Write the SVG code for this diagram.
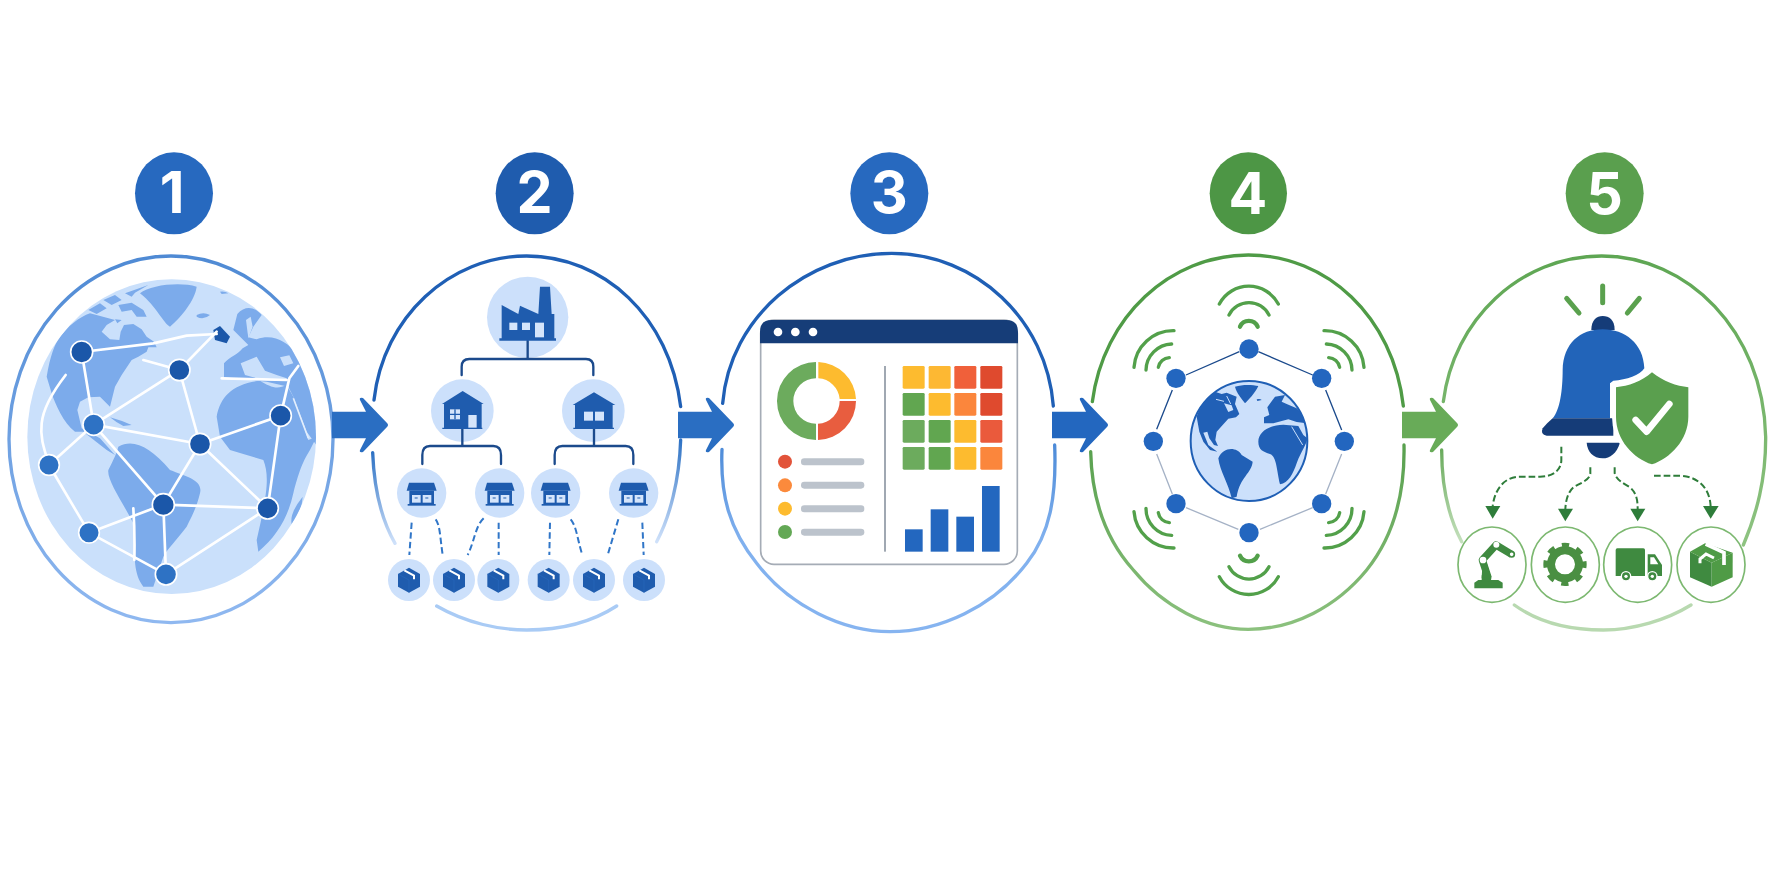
<svg xmlns="http://www.w3.org/2000/svg" xmlns:xlink="http://www.w3.org/1999/xlink" width="1774" height="887" viewBox="0 0 1774 887">
<style>
.num{font-family:"Inter","Liberation Sans",sans-serif;font-weight:700;font-size:172px;fill:#fff;text-anchor:middle}
.ol{fill:none;stroke-linecap:round;stroke-width:10}
.e1{stroke:#fff;stroke-width:8;fill:none;stroke-linecap:round;stroke-linejoin:round}
.nd{stroke:#fff;stroke-width:5}
.d{fill:#1b57a9}.m{fill:#2e72c4}
.land{fill:#7cabeb}
.sea{fill:#cae0fb}
.lt{fill:#cce0fb}
.bus{fill:none;stroke:#1b4a8c;stroke-width:7;stroke-linecap:round;stroke-linejoin:round}
.ico{fill:#1f5cae}
.pale{fill:#d5e5fb}
.dash{fill:none;stroke:#3076c8;stroke-width:6;stroke-dasharray:19 10}
.wifi{fill:none;stroke:#52a04a;stroke-width:10;stroke-linecap:round}
.ring{fill:#2366bf}
.rl1{stroke:#1b4a8c;stroke-width:4}.rl2{stroke:#a5b2c6;stroke-width:4}
.l4{fill:#2160b6}
.gd{fill:none;stroke:#2e7d3a;stroke-width:6;stroke-dasharray:20 9}
.gh{fill:#2e7d3a}
.cc{fill:#fff;stroke:#7cb870;stroke-width:5}
.g5{fill:#3f8a40}
.ray{stroke:#5aa14e;stroke-width:15;stroke-linecap:round}
</style>
<defs>
<linearGradient id="g1" x1="0" y1="0" x2="0" y2="1"><stop offset="0" stop-color="#4f8ad4"/><stop offset="1" stop-color="#8fb8f0"/></linearGradient>
<linearGradient id="g2" x1="0" y1="0" x2="0" y2="1"><stop offset="0" stop-color="#2e72c4"/><stop offset="1" stop-color="#cfe1fa"/></linearGradient>
<linearGradient id="g3" x1="0" y1="0" x2="0" y2="1"><stop offset="0" stop-color="#4d8bd8"/><stop offset=".5" stop-color="#80b0ee"/><stop offset="1" stop-color="#86b4f0"/></linearGradient>
<linearGradient id="g4" x1="0" y1="0" x2="0" y2="1"><stop offset="0" stop-color="#58a04e"/><stop offset="1" stop-color="#8cc17e"/></linearGradient>
<linearGradient id="g5" x1="0" y1="0" x2="0" y2="1"><stop offset="0" stop-color="#6aab5d"/><stop offset="1" stop-color="#c4e0bc"/></linearGradient>
<linearGradient id="g6" x1="0" y1="0" x2="0" y2="1"><stop offset="0" stop-color="#5ea653"/><stop offset="1" stop-color="#8ec381"/></linearGradient>
<clipPath id="c1"><ellipse cx="515" cy="920" rx="433" ry="472"/></clipPath>
<clipPath id="c4"><ellipse cx="627" cy="933" rx="175" ry="180"/></clipPath>
<path id="arrow" d="M0,-13.3H34L28,-25Q27,-28 31,-27L55,-2Q57,0 55,2L31,27Q27,28 28,25L34,13.3H0Z"/>
<g id="store">
<path class="ico" d="M-38,-31H37L45,-7H-45Z"/>
<rect class="ico" x="-37" y="-7" width="74" height="40"/>
<rect class="ico" x="-42" y="33" width="84" height="5"/>
<rect class="pale" x="-29" y="6" width="26" height="23"/>
<rect class="pale" x="3" y="6" width="26" height="23"/>
<path d="M-21,15h9M11,15h9" stroke="#1f5cae" stroke-width="3"/>
</g>
<g id="box">
<path class="ico" d="M0,-37L33,-18V20L0,38L-33,20V-18Z"/>
<path d="M-14,-29L15,-13V-2" fill="none" stroke="#fff" stroke-width="6"/>
<path d="M-33,-18L0,0V38" fill="none" stroke="#2a6bc0" stroke-width="1.5"/>
</g>
</defs>
<rect width="1774" height="887" fill="#fff"/>

<g id="stage-1" transform="translate(0,130) scale(.33333)">
<ellipse cx="522" cy="190" rx="117" ry="123" fill="#2769bf"/>
<text class="num" x="516" y="250">1</text>
<ellipse cx="513" cy="928" rx="486" ry="550" fill="none" stroke="url(#g1)" stroke-width="10"/>
<ellipse cx="515" cy="920" rx="433" ry="472" class="sea"/>
<g clip-path="url(#c1)">
<path class="land" d="M140,740C150,680 165,640 178,625C200,590 240,560 270,550L345,570L320,585L305,605L330,628L358,630L362,605L372,585L400,582L425,598L440,620L462,635L470,652L445,652L440,665L415,680L395,690L365,735L345,770L330,830L300,800L265,802L240,815L232,840L245,895L300,925L345,975L320,960L250,905L225,905C190,880 165,820 155,790Z"/>
<path class="land" d="M265,540L300,520L320,535L290,552ZM310,510L345,495L365,510L335,525ZM355,525L395,518L430,540L440,560L410,560L395,540L365,545ZM375,490L445,465L405,488L395,500ZM345,568L365,570L352,580Z"/>
<path class="land" d="M420,490C450,465 540,455 590,470C585,510 545,560 510,590C490,580 470,530 420,490Z"/>
<path class="land" d="M590,555Q610,545 630,555Q610,572 590,560ZM660,485Q675,483 685,490L665,492Z"/>
<path class="land" d="M330,862Q360,870 395,885L370,888Q345,875 330,862Z"/>
<path class="land" d="M672,742L672,700C690,680 712,675 728,655L745,645L700,600L712,552C735,525 765,530 785,555L760,590L745,622L770,628C820,610 860,635 890,670L960,780V960L920,905L880,800L865,770L800,755L700,745Z"/>
<path class="land" d="M650,860C660,800 700,760 780,752C810,770 830,780 860,765L880,800L925,930L950,920L930,960C915,985 900,1010 880,1090C865,1160 830,1220 775,1265L770,1230C800,1100 810,1040 790,990L740,975L690,960L660,920Z"/>
<path class="land" d="M908,1100Q905,1150 875,1182Q868,1150 908,1100Z"/>
<path class="land" d="M355,950C400,925 450,950 510,1020C560,1040 610,1050 600,1090C590,1130 580,1150 560,1190C530,1230 500,1260 490,1280L460,1370L430,1370C400,1330 405,1290 400,1180C370,1120 320,1050 325,1020C340,990 350,970 355,950Z"/>
<path class="sea" d="M722,700L770,680L795,722L830,735L860,745L860,752L790,750L735,735ZM840,682L868,676L880,700L852,708Z"/>
<path class="sea" d="M745,625L738,570L752,560L758,590Z"/>
<path d="M880,805L925,925" stroke="#e3eefc" stroke-width="5"/>
</g>
<path class="d" d="M640,600L660,588L690,620L680,640L645,630Z"/>
<g class="e1">
<path d="M245,666L460,640L560,617L650,612"/><path d="M245,666L281,884"/>
<path d="M538,720L650,605"/><path d="M538,720L430,690"/><path d="M538,720L281,884"/><path d="M538,720L600,942"/>
<path d="M281,884L600,942"/><path d="M600,942L842,857"/><path d="M600,942L490,1124"/><path d="M600,942L803,1135"/>
<path d="M281,884L490,1124"/><path d="M281,884L147,1005"/><path d="M490,1124L803,1135"/><path d="M490,1124L267,1208"/>
<path d="M490,1124L498,1333"/><path d="M267,1208L498,1333"/><path d="M803,1135L498,1333"/><path d="M842,857L803,1135"/>
<path d="M147,1005L267,1208"/><path d="M147,1005C130,950 120,920 125,880C130,830 170,770 197,735"/>
<path d="M842,857L868,745L895,708"/><path d="M665,745L860,750"/><path d="M400,1135Q405,1210 403,1290"/>
</g>
<circle class="nd d" cx="245" cy="666" r="33"/><circle class="nd d" cx="538" cy="720" r="32"/><circle class="nd m" cx="281" cy="884" r="32"/>
<circle class="nd d" cx="600" cy="942" r="32"/><circle class="nd d" cx="842" cy="857" r="32"/><circle class="nd m" cx="147" cy="1005" r="31"/>
<circle class="nd d" cx="490" cy="1124" r="33"/><circle class="nd d" cx="803" cy="1135" r="32"/><circle class="nd m" cx="267" cy="1208" r="31"/><circle class="nd m" cx="498" cy="1333" r="32"/>
</g>

<g id="stage-2" transform="translate(360,130) scale(.33333)">
<ellipse cx="524" cy="190" rx="117" ry="123" fill="#1f5cae"/>
<text class="num" x="524" y="250">2</text>
<path class="ol" stroke="#1f5fb5" d="M42,810C70,560 270,378 500,378C730,378 930,560 962,830"/>
<path class="ol" stroke="url(#g2)" d="M38,968C42,1070 65,1170 105,1240"/>
<path class="ol" stroke="url(#g2)" d="M962,930C958,1050 930,1160 890,1235"/>
<path class="ol" stroke="#a9cbf5" d="M230,1428C320,1480 420,1500 500,1500C590,1500 690,1480 770,1428"/>
<circle class="lt" cx="503" cy="562" r="122"/>
<circle class="lt" cx="307" cy="842" r="94"/><circle class="lt" cx="700" cy="842" r="94"/>
<path class="bus" d="M503,632V687M305,735V710Q305,687 328,687H678Q700,687 700,710V735"/>
<path class="bus" d="M307,895V948M702,895V948M187,1002V975Q187,948 210,948H400Q423,948 423,975V1002M584,1002V975Q584,948 607,948H797Q820,948 820,975V1002"/>
<path class="ico" d="M425,525L475,552L480,527L535,552L540,470H570L575,552H583V625H588V632H418V625H425Z"/>
<rect class="pale" x="448" y="578" width="24" height="22"/><rect class="pale" x="486" y="578" width="24" height="22"/><rect class="pale" x="525" y="578" width="27" height="44"/>
<path class="ico" d="M308,783L371,822H365V893H367V897H247V893H252V822H246Z"/>
<rect class="pale" x="270" y="838" width="30" height="30"/>
<path d="M270,853H300M285,838V868" stroke="#1f5cae" stroke-width="4"/>
<rect class="pale" x="325" y="855" width="25" height="38"/>
<path class="ico" d="M702,787L766,825H758V893H762V897H640V893H645V825H638Z"/>
<rect class="pale" x="672" y="845" width="27" height="27"/><rect class="pale" x="705" y="845" width="27" height="27"/>
<circle class="lt" cx="185" cy="1089" r="74"/><circle class="lt" cx="419" cy="1089" r="74"/><circle class="lt" cx="587" cy="1089" r="74"/><circle class="lt" cx="821" cy="1089" r="74"/>
<use xlink:href="#store" href="#store" x="185" y="1089"/><use xlink:href="#store" href="#store" x="419" y="1089"/><use xlink:href="#store" href="#store" x="587" y="1089"/><use xlink:href="#store" href="#store" x="821" y="1089"/>
<path class="dash" d="M155,1178L148,1275"/><path class="dash" d="M227,1168C240,1185 240,1220 248,1275"/><path class="dash" d="M371,1165C345,1190 345,1230 323,1275"/><path class="dash" d="M416,1178V1275"/>
<path class="dash" d="M570,1178L568,1275"/><path class="dash" d="M632,1168C650,1190 650,1220 667,1275"/><path class="dash" d="M775,1168L743,1275"/><path class="dash" d="M847,1178L851,1275"/>
<circle class="lt" cx="147" cy="1350" r="63"/><circle class="lt" cx="282" cy="1350" r="63"/><circle class="lt" cx="415" cy="1350" r="63"/><circle class="lt" cx="566" cy="1350" r="63"/><circle class="lt" cx="702" cy="1350" r="63"/><circle class="lt" cx="852" cy="1350" r="63"/>
<use xlink:href="#box" href="#box" x="147" y="1350"/><use xlink:href="#box" href="#box" x="282" y="1350"/><use xlink:href="#box" href="#box" x="415" y="1350"/><use xlink:href="#box" href="#box" x="566" y="1350"/><use xlink:href="#box" href="#box" x="702" y="1350"/><use xlink:href="#box" href="#box" x="852" y="1350"/>
</g>

<g id="stage-3" transform="translate(700,130) scale(.33333)">
<ellipse cx="568" cy="190" rx="117" ry="123" fill="#2769bf"/>
<text class="num" x="568" y="250">3</text>
<path class="ol" stroke="#1f5fb5" d="M68,820C90,560 320,370 575,370C830,370 1040,570 1060,828"/>
<path class="ol" stroke="url(#g3)" d="M66,958C60,1100 90,1200 170,1300C270,1430 430,1505 570,1505C720,1505 880,1430 980,1300C1050,1210 1070,1100 1064,945"/>
<rect x="182" y="570" width="770" height="733" rx="40" fill="#fff" stroke="#a5acb6" stroke-width="5"/>
<path fill="#163d78" d="M180,640V605Q180,570 215,570H919Q954,570 954,605V640Z"/>
<circle cx="234" cy="606" r="13" fill="#fff"/><circle cx="286" cy="606" r="13" fill="#fff"/><circle cx="339" cy="606" r="13" fill="#fff"/>
<path fill="#fdbb2f" d="M355,696A117,117 0 0 1 468,807L419,807A68,68 0 0 0 355,745Z"/>
<path fill="#e85d3f" d="M468,813A117,117 0 0 1 354,930L354,881A68,68 0 0 0 419,813Z"/>
<path fill="#6cab5d" d="M348,696A117,117 0 1 0 348,930L348,881A68,68 0 1 1 348,745Z"/>
<circle cx="255" cy="995" r="21" fill="#e2533a"/><circle cx="255" cy="1066" r="21" fill="#fb8a3c"/><circle cx="255" cy="1136" r="21" fill="#fdbb2f"/><circle cx="255" cy="1206" r="21" fill="#63a855"/>
<g fill="#bcc3cc"><rect x="303" y="985" width="190" height="21" rx="10"/><rect x="303" y="1055" width="190" height="21" rx="10"/><rect x="303" y="1126" width="190" height="21" rx="10"/><rect x="303" y="1196" width="190" height="21" rx="10"/></g>
<path d="M555,708V1265" stroke="#a0a8b2" stroke-width="6"/>
<g>
<rect x="608" y="708" width="66" height="68" rx="4" fill="#fdbb2f"/><rect x="686" y="708" width="66" height="68" rx="4" fill="#fdb833"/><rect x="763" y="708" width="66" height="68" rx="4" fill="#f0603a"/><rect x="841" y="708" width="66" height="68" rx="4" fill="#df4a2e"/>
<rect x="608" y="789" width="66" height="68" rx="4" fill="#61a650"/><rect x="686" y="789" width="66" height="68" rx="4" fill="#fdbb2f"/><rect x="763" y="789" width="66" height="68" rx="4" fill="#fb863c"/><rect x="841" y="789" width="66" height="68" rx="4" fill="#df4a2e"/>
<rect x="608" y="870" width="66" height="68" rx="4" fill="#6cab5d"/><rect x="686" y="870" width="66" height="68" rx="4" fill="#61a650"/><rect x="763" y="870" width="66" height="68" rx="4" fill="#fdbb2f"/><rect x="841" y="870" width="66" height="68" rx="4" fill="#ea5a3c"/>
<rect x="608" y="951" width="66" height="68" rx="4" fill="#6cab5d"/><rect x="686" y="951" width="66" height="68" rx="4" fill="#61a650"/><rect x="763" y="951" width="66" height="68" rx="4" fill="#fdbb2f"/><rect x="841" y="951" width="66" height="68" rx="4" fill="#fb863c"/>
</g>
<g fill="#2367bf"><rect x="615" y="1198" width="53" height="67"/><rect x="692" y="1138" width="53" height="127"/><rect x="769" y="1160" width="53" height="105"/><rect x="846" y="1068" width="53" height="197"/></g>
</g>

<g id="stage-4" transform="translate(1040,130) scale(.33333)">
<ellipse cx="625" cy="190" rx="116" ry="123" fill="#4d9645"/>
<text class="num" x="624" y="252">4</text>
<path class="ol" stroke="#4f9b46" d="M157,815C190,560 390,375 625,375C860,375 1060,560 1090,828"/>
<path class="ol" stroke="url(#g4)" d="M152,965C155,1090 190,1220 280,1320C370,1430 500,1498 625,1498C760,1498 890,1430 980,1320C1060,1220 1095,1090 1092,945"/>
<ellipse cx="627" cy="933" rx="175" ry="180" fill="#cce0fb" stroke="#1f5fb5" stroke-width="6"/>
<g clip-path="url(#c4)">
<path class="l4" d="M478,905L470,860C480,830 500,805 525,785L545,792L560,788L590,800L585,822L598,852L588,862L565,866L548,885L530,905L526,930L534,948L522,945L508,925L502,905L490,908L505,945L532,965L510,960L490,935Z"/>
<path fill="#cce0fb" d="M552,820L575,826L580,840L565,846Z"/>
<path d="M528,808L552,814M560,798L572,822" stroke="#cce0fb" stroke-width="3"/>
<path class="l4" d="M585,770C610,762 640,765 655,768C645,790 625,810 615,820C605,805 590,790 585,770Z"/>
<path class="l4" d="M650,808Q660,805 665,810L652,813Z"/>
<path class="l4" d="M672,880L672,862L688,855L682,832L705,800L735,795L725,815L740,822L770,835L790,855L800,880L770,876L745,868L700,880Z"/>
<path class="l4" d="M655,935C655,905 690,885 730,884L775,888L790,915L802,925C800,945 785,960 770,1000C760,1030 745,1060 720,1063C710,1020 710,980 690,972C670,965 655,960 655,935Z"/>
<path d="M755,890L788,945" stroke="#cce0fb" stroke-width="3" fill="none"/>
<path class="l4" d="M535,985C550,950 590,950 605,975L638,995C635,1030 600,1040 590,1100L575,1105C565,1060 540,1025 535,985Z"/>
</g>
<path class="rl1" d="M438,735L598,665M655,665L818,735M857,780L905,900M350,898L397,780"/>
<path class="rl2" d="M905,972L857,1092M818,1133L660,1198M595,1198L438,1133M397,1092L350,972"/>
<circle class="ring" cx="627" cy="657" r="29"/><circle class="ring" cx="845" cy="745" r="29"/><circle class="ring" cx="913" cy="934" r="29"/><circle class="ring" cx="845" cy="1121" r="29"/><circle class="ring" cx="627" cy="1208" r="29"/><circle class="ring" cx="408" cy="1121" r="29"/><circle class="ring" cx="340" cy="934" r="29"/><circle class="ring" cx="408" cy="745" r="29"/>
<path class="wifi" d="M538,522A100,100 0 0 1 715,522M567,555A67,67 0 0 1 687,555"/><path class="wifi" style="stroke-width:13" d="M600,590A29,29 0 0 1 653,590"/>
<path class="wifi" d="M538,1340A100,100 0 0 0 715,1340M567,1310A67,67 0 0 0 687,1310"/><path class="wifi" style="stroke-width:13" d="M600,1277A29,29 0 0 0 653,1277"/>
<path class="wifi" d="M282,712A118,118 0 0 1 402,602M318,720A80,80 0 0 1 395,642M355,712A35,35 0 0 1 388,683"/>
<path class="wifi" d="M972,712A118,118 0 0 0 852,602M936,720A80,80 0 0 0 859,642M899,712A35,35 0 0 0 866,683"/>
<path class="wifi" d="M282,1145A118,118 0 0 0 402,1254M318,1135A80,80 0 0 0 395,1216M355,1148A35,35 0 0 0 388,1178"/>
<path class="wifi" d="M972,1145A118,118 0 0 1 852,1254M936,1135A80,80 0 0 1 859,1216M899,1148A35,35 0 0 1 866,1178"/>
</g>

<g id="stage-5" transform="translate(1380,130) scale(.33333)">
<ellipse cx="674" cy="190" rx="117" ry="123" fill="#5a9f4e"/>
<text class="num" x="674" y="252">5</text>
<path class="ol" stroke="url(#g6)" d="M190,815C220,570 420,378 665,378C920,378 1150,600 1157,920C1158,1050 1130,1150 1090,1245"/>
<path class="ol" stroke="url(#g5)" d="M185,960C185,1060 205,1160 245,1235"/>
<path class="ol" stroke="#b8d9b0" d="M403,1425C480,1480 580,1500 670,1500C760,1500 860,1470 933,1425"/>
<path class="ray" d="M668,468V518M560,505L597,549M778,505L742,549"/>
<path fill="#153c78" d="M634,600C634,570 650,558 668,558C688,558 704,570 704,600Z"/>
<path fill="#2264b9" d="M548,720C550,640 600,598 668,598C735,598 790,640 793,715C780,735 740,750 700,752L690,760V865H518C540,840 548,780 548,720Z"/>
<path fill="#153c78" d="M518,865H700V917H500Q480,915 488,895Q500,880 518,865Z"/>
<path fill="#153c78" d="M620,938H720C710,970 690,985 668,985C640,985 622,965 620,938Z"/>
<path fill="#5a9f4e" stroke="#fff" stroke-width="24" paint-order="stroke" d="M816,727C850,755 890,768 925,772V860C925,930 870,985 816,1003C760,985 708,930 708,860V772C745,768 785,755 816,727Z"/>
<path d="M767,870L800,905L868,822" fill="none" stroke="#fff" stroke-width="20" stroke-linecap="round" stroke-linejoin="round"/>
<path class="gd" d="M544,950V990C544,1020 520,1040 480,1040H420C375,1040 345,1075 338,1128"/><path class="gh" d="M316,1128H361L338,1166Z"/>
<path class="gd" d="M631,1012V1030C630,1050 600,1060 580,1072C565,1085 557,1110 556,1138"/><path class="gh" d="M534,1136H579L556,1174Z"/>
<path class="gd" d="M704,1012V1030C710,1050 730,1060 750,1072C770,1090 773,1110 773,1138"/><path class="gh" d="M751,1136H796L773,1174Z"/>
<path class="gd" d="M822,1037H900C960,1040 990,1080 992,1130"/><path class="gh" d="M969,1128H1016L992,1166Z"/>
<ellipse class="cc" cx="336" cy="1304" rx="102" ry="113"/><ellipse class="cc" cx="556" cy="1304" rx="102" ry="113"/><ellipse class="cc" cx="773" cy="1304" rx="102" ry="113"/><ellipse class="cc" cx="993" cy="1304" rx="102" ry="113"/>
<path class="g5" d="M283,1375V1358L295,1350H355L368,1358V1375Z"/>
<path d="M305,1345L325,1345L308,1290" fill="#3f8a40" stroke="#3f8a40" stroke-width="18" stroke-linejoin="round"/>
<path d="M325,1345L307,1290L348,1245L395,1273" fill="none" stroke="#3f8a40" stroke-width="22" stroke-linejoin="round"/>
<circle cx="309" cy="1290" r="10" fill="#fff"/><circle cx="349" cy="1244" r="9" fill="#fff"/><circle cx="395" cy="1273" r="8" fill="#fff" stroke="#3f8a40" stroke-width="5"/>
<circle cx="555" cy="1303" r="42" fill="none" stroke="#4a8f42" stroke-width="24"/>
<circle cx="555" cy="1303" r="58" fill="none" stroke="#4a8f42" stroke-width="14" stroke-dasharray="22 23.5" stroke-dashoffset="11"/>
<path class="g5" d="M712,1255H790Q795,1255 795,1260V1338H707V1260Q707,1255 712,1255Z"/>
<path class="g5" d="M803,1273H825L846,1305V1338H803Z"/>
<path d="M811,1282H822L835,1303H811Z" fill="#fff"/>
<circle cx="738" cy="1339" r="14" fill="#3f8a40" stroke="#fff" stroke-width="4"/><circle cx="738" cy="1339" r="5" fill="#fff"/>
<circle cx="817" cy="1339" r="14" fill="#3f8a40" stroke="#fff" stroke-width="4"/><circle cx="817" cy="1339" r="5" fill="#fff"/>
<path fill="#3f8a40" d="M930,1265L995,1298V1370L930,1342Z"/>
<path fill="#4f9b46" d="M995,1298L1058,1268V1342L995,1370Z"/>
<path fill="#4f9b46" d="M930,1265L975,1240L1058,1268L995,1298Z"/>
<path d="M960,1300V1287L978,1272L1002,1284" fill="none" stroke="#fff" stroke-width="9"/>
<path d="M977,1242L1032,1268V1305" fill="none" stroke="#fff" stroke-width="11"/>
</g>

<g id="connectors">
<use xlink:href="#arrow" href="#arrow" x="332" y="425" fill="#2a6ec2"/>
<use xlink:href="#arrow" href="#arrow" x="678" y="425" fill="#2a6ec2"/>
<use xlink:href="#arrow" href="#arrow" x="1052" y="425" fill="#2367bf"/>
<use xlink:href="#arrow" href="#arrow" x="1402" y="425" fill="#68ab58"/>
</g>
</svg>
